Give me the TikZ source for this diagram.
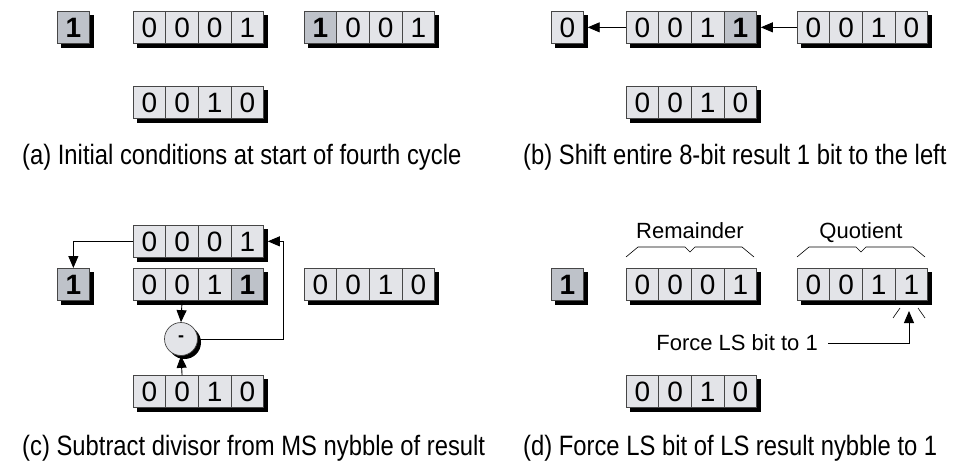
\documentclass[tikz,border=0pt]{standalone}
\usepackage{fontspec}
\setmainfont{Liberation Sans}
\newfontfamily\capfont[FakeStretch=0.85]{Liberation Sans}
\usetikzlibrary{shapes.multipart}
\usetikzlibrary{shadows}
\usetikzlibrary{backgrounds}
\usetikzlibrary{arrows.meta}
\usetikzlibrary{calc}

\definecolor{celllight}{RGB}{227,228,232}
\definecolor{celldark}{RGB}{190,194,201}
\definecolor{cellline}{RGB}{70,70,70}

\newcommand{\bit}[1]{\makebox[32pt]{\raisebox{0pt}[26pt][6pt]{#1}}}
\newcommand{\hbit}[1]{\bit{\bfseries #1}}

\begin{document}
\begin{tikzpicture}[x=1pt, y=-1pt,
    cell/.style={rectangle, draw=cellline, line width=0.7pt, inner sep=0pt, anchor=north west,
        font=\fontsize{28}{28}\selectfont},
    reg/.style={cell, rectangle split, rectangle split horizontal, rectangle split parts=4},
    plainreg/.style={reg, rectangle split part fill={celllight}},
    lastdark/.style={reg, rectangle split part fill={celllight, celllight, celllight, celldark}},
    firstdark/.style={reg, rectangle split part fill={celldark, celllight}},
    subtract/.style={circle, draw=cellline, line width=0.7pt, fill=celllight, minimum size=33pt, inner sep=0pt,
        font=\fontsize{18}{18}\selectfont\bfseries,
        drop shadow={shadow xshift=3.5pt, shadow yshift=-3.5pt, opacity=1, fill=black}},
    arr/.style={-{Triangle[length=12pt, width=10pt]}, line width=0.9pt},
    caption/.style={anchor=base west, inner sep=0pt, font=\capfont\fontsize{28}{28}\selectfont},
    tag/.style={anchor=base, inner sep=0pt, font=\fontsize{22}{22}\selectfont}]
    \useasboundingbox (0,0) rectangle (954,463);

    % (a)
    \node[cell, fill=celldark] (aone) at (57,11) {\hbit{1}};
    \node[plainreg] (arem) at (133,11) {\bit{0}\nodepart{two}\bit{0}\nodepart{three}\bit{0}\nodepart{four}\bit{1}};
    \node[firstdark] (aquot) at (304,11) {\hbit{1}\nodepart{two}\bit{0}\nodepart{three}\bit{0}\nodepart{four}\bit{1}};
    \node[plainreg] (adiv) at (133,86) {\bit{0}\nodepart{two}\bit{0}\nodepart{three}\bit{1}\nodepart{four}\bit{0}};
    \node[caption] (acap) at (22,164) {(a) Initial conditions at start of fourth cycle};

    % (b)
    \node[cell, fill=celllight] (bzero) at (551,11) {\bit{0}};
    \node[lastdark] (brem) at (626,11) {\bit{0}\nodepart{two}\bit{0}\nodepart{three}\bit{1}\nodepart{four}\hbit{1}};
    \node[plainreg] (bquot) at (797,11) {\bit{0}\nodepart{two}\bit{0}\nodepart{three}\bit{1}\nodepart{four}\bit{0}};
    \node[plainreg] (bdiv) at (626,86) {\bit{0}\nodepart{two}\bit{0}\nodepart{three}\bit{1}\nodepart{four}\bit{0}};
    \node[caption] (bcap) at (523,164) {(b) Shift entire 8-bit result 1 bit to the left};

    \draw[arr] (brem.west) -- ([xshift=4pt]bzero.east);
    \draw[arr] (bquot.west) -- ([xshift=4pt]brem.east);

    % (c)
    \node[plainreg] (crem) at (133,225) {\bit{0}\nodepart{two}\bit{0}\nodepart{three}\bit{0}\nodepart{four}\bit{1}};
    \node[lastdark] (cres) at (133,268) {\bit{0}\nodepart{two}\bit{0}\nodepart{three}\bit{1}\nodepart{four}\hbit{1}};
    \node[plainreg] (cdiv) at (304,268) {\bit{0}\nodepart{two}\bit{0}\nodepart{three}\bit{1}\nodepart{four}\bit{0}};
    \node[cell, fill=celldark] (cone) at (57,268) {\hbit{1}};
    \node[subtract] (csub) at (181,339) {-};
    \node[plainreg] (cdivb) at (133,375) {\bit{0}\nodepart{two}\bit{0}\nodepart{three}\bit{1}\nodepart{four}\bit{0}};
    \node[caption] (ccap) at (22,455) {(c) Subtract divisor from MS nybble of result};

    \coordinate (cturn) at (283,339);
    \draw[arr] (crem.west) -| (cone.north);
    \draw[arr] ($(cres.south west)!0.375!(cres.south east)$) -- (csub.north);
    \draw[arr] ($(cdivb.north west)!0.375!(cdivb.north east)$) -- (csub.south);
    \draw[arr] (csub.east) -- (cturn) |- ([xshift=4pt]crem.east);

    % (d)
    \node[cell, fill=celldark] (done) at (551,268) {\hbit{1}};
    \node[plainreg] (drem) at (626,268) {\bit{0}\nodepart{two}\bit{0}\nodepart{three}\bit{0}\nodepart{four}\bit{1}};
    \node[plainreg] (dquot) at (797,268) {\bit{0}\nodepart{two}\bit{0}\nodepart{three}\bit{1}\nodepart{four}\bit{1}};
    \node[plainreg] (ddiv) at (626,375) {\bit{0}\nodepart{two}\bit{0}\nodepart{three}\bit{1}\nodepart{four}\bit{0}};
    \node[tag] (dremlab) at (690,238) {Remainder};
    \node[tag] (dquotlab) at (861,238) {Quotient};
    \node[tag, anchor=base east] (force) at (818,350) {Force LS bit to 1};
    \node[caption] (dcap) at (523,455) {(d) Force LS bit of LS result nybble to 1};

    \draw[line width=0.6pt] (626,257) -- (638,247) -- (685,247) -- (690,252) -- (695,247) -- (742,247) -- (754,257);
    \draw[line width=0.6pt] (797,257) -- (809,247) -- (856,247) -- (861,252) -- (866,247) -- (913,247) -- (925,257);
    \coordinate (dtip) at (909,311);
    \draw[arr] ([xshift=10pt,yshift=7pt]force.base east) -| (dtip);
    \draw[line width=0.6pt] (893,318) -- (900,308) (918,308) -- (925,318);

    % shadows behind every register and single cell
    \begin{pgfonlayer}{background}
        \foreach \r in {aone,arem,aquot,adiv,bzero,brem,bquot,bdiv,crem,cres,cdiv,cone,cdivb,done,drem,dquot,ddiv}
            \fill[black] ([shift={(4,4)}]\r.north west) rectangle ([shift={(4,4)}]\r.south east);
    \end{pgfonlayer}
\end{tikzpicture}
\end{document}
